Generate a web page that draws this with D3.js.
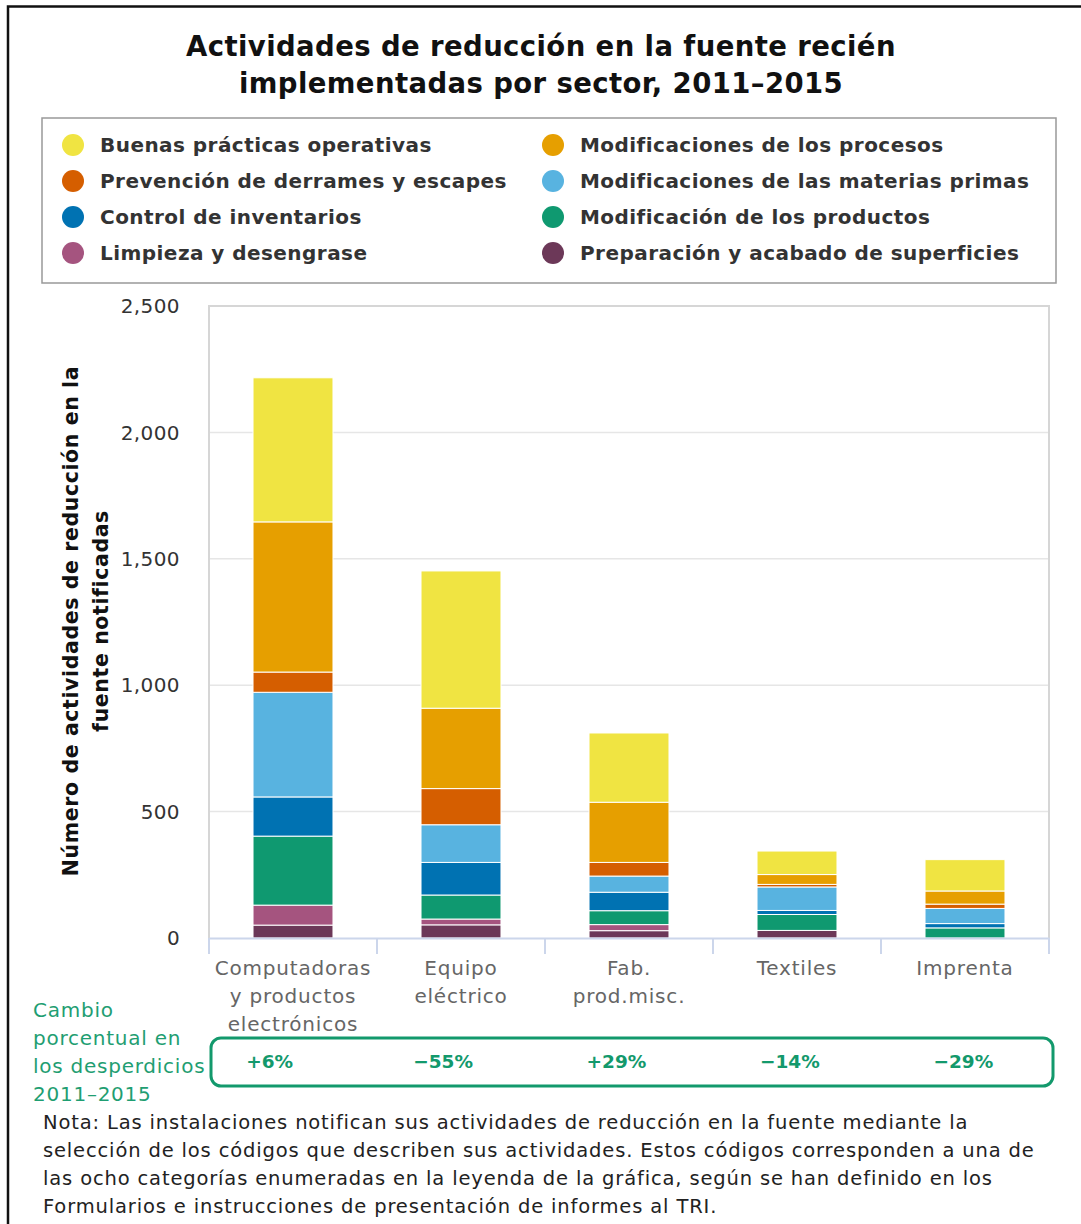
<!DOCTYPE html>
<html lang="es">
  <head>
    <meta charset="utf-8" />
    <title>Actividades de reducción en la fuente</title>
    <script src="https://cdnjs.cloudflare.com/ajax/libs/d3/7.8.5/d3.min.js"></script>
    <style>
      body { margin: 0; background: #fff; }
      svg { display: block; font-family: "DejaVu Sans", Verdana, sans-serif; }
    </style>
  </head>
  <body>
    <script>
      /*************************** Data ***************************/

      var sectors = [
        ["Computadoras", "y productos", "electrónicos"],
        ["Equipo", "eléctrico"],
        ["Fab.", "prod.misc."],
        ["Textiles"],
        ["Imprenta"]
      ];
      var sectorKeys = ["comp", "elec", "fab", "text", "impr"];

      // stacked from the bottom up
      var seriesNames = [
        "Preparación y acabado de superficies",
        "Limpieza y desengrase",
        "Modificación de los productos",
        "Control de inventarios",
        "Modificaciones de las materias primas",
        "Prevención de derrames y escapes",
        "Modificaciones de los procesos",
        "Buenas prácticas operativas"
      ];
      var seriesColors = ["#6c3858", "#a5547f", "#0f9970", "#0072b2", "#58b3e0", "#d55e00", "#e69f00", "#f0e442"];

      var prep       = [51, 52, 29, 30, 0];
      var limpieza   = [79, 23, 24, 0, 0];
      var productos  = [273, 95, 55, 63, 40];
      var inventario = [155, 129, 73, 16, 17];
      var materias   = [414, 149, 64, 93, 60];
      var derrames   = [80, 143, 54, 10, 17];
      var procesos   = [594, 318, 238, 39, 52];
      var buenas     = [570, 543, 274, 93, 124];

      var cambio = ["+6%", "\u221255%", "+29%", "\u221214%", "\u221229%"];

      // legend is read row by row, two columns
      var legendOrder = [7, 6, 5, 4, 3, 2, 1, 0];

      var yTicks = [0, 500, 1000, 1500, 2000, 2500];

      var noteLines = [
        "Nota: Las instalaciones notifican sus actividades de reducción en la fuente mediante la",
        "selección de los códigos que describen sus actividades. Estos códigos corresponden a una de",
        "las ocho categorías enumeradas en la leyenda de la gráfica, según se han definido en los",
        "Formularios e instrucciones de presentación de informes al TRI."
      ];

      /*************************** Canvas ***************************/

      var W = 1081, H = 1224;
      var svg = d3.select("body").append("svg").attr("width", W).attr("height", H);

      // frame
      svg.append("path").attr("d", "M8,1224 V6.5 H1081")
        .attr("fill", "none").attr("stroke", "#111").attr("stroke-width", 2.5);

      // title
      var title = svg.append("text").attr("x", 541).attr("text-anchor", "middle")
        .attr("font-size", 27.5).attr("letter-spacing", 0.4).attr("font-weight", "bold").attr("fill", "#111");
      title.append("tspan").attr("x", 541).attr("y", 56).text("Actividades de reducción en la fuente recién");
      title.append("tspan").attr("x", 541).attr("y", 93).text("implementadas por sector, 2011\u20132015");

      /*************************** Legend ***************************/

      svg.append("rect").attr("x", 42).attr("y", 118).attr("width", 1014).attr("height", 165)
        .attr("fill", "#fff").attr("stroke", "#999").attr("stroke-width", 1.5);

      var legend = svg.append("g").selectAll("g").data(legendOrder).join("g")
        .attr("transform", function (d, i) {
          return "translate(" + (i % 2 === 0 ? 73 : 553) + "," + (145 + Math.floor(i / 2) * 36) + ")";
        });
      legend.append("circle").attr("r", 11).attr("fill", function (d) { return seriesColors[d]; });
      legend.append("text").attr("x", 27).attr("dy", "0.36em")
        .attr("font-size", 20).attr("letter-spacing", 0.45).attr("font-weight", "bold").attr("fill", "#333")
        .text(function (d) { return seriesNames[d]; });

      /*************************** Scales ***************************/

      var x = d3.scaleBand().domain(sectorKeys).range([209, 1049]).paddingInner(0.524).paddingOuter(0.262);
      var y = d3.scaleLinear().domain([0, 2500]).range([938, 306]);
      var xc = d3.scaleBand().domain(sectorKeys).range([183, 1050]);

      var table = sectorKeys.map(function (k, i) {
        return {
          key: k, s0: prep[i], s1: limpieza[i], s2: productos[i], s3: inventario[i],
          s4: materias[i], s5: derrames[i], s6: procesos[i], s7: buenas[i]
        };
      });
      var stack = d3.stack().keys(["s0", "s1", "s2", "s3", "s4", "s5", "s6", "s7"]);
      var layers = stack(table);

      /*************************** Plot area ***************************/

      svg.append("g").selectAll("line").data(yTicks.slice(1)).join("line")
        .attr("x1", 209).attr("x2", 1049)
        .attr("y1", function (d) { return y(d); }).attr("y2", function (d) { return y(d); })
        .attr("stroke", "#e6e6e6").attr("stroke-width", 1.5);

      svg.append("path").attr("d", "M209,938 V306 H1049 V938")
        .attr("fill", "none").attr("stroke", "#d6d6d6").attr("stroke-width", 2);

      svg.append("g").selectAll("text").data(yTicks).join("text")
        .attr("x", 180).attr("y", function (d) { return y(d); }).attr("dy", "0.36em")
        .attr("text-anchor", "end").attr("font-size", 20).attr("letter-spacing", 0.4).attr("fill", "#333")
        .text(function (d) { return d3.format(",")(d); });

      // y title
      var yt = svg.append("text").attr("transform", "translate(0,621) rotate(-90)")
        .attr("text-anchor", "middle").attr("font-size", 20.5).attr("letter-spacing", 0.6)
        .attr("font-weight", "bold").attr("fill", "#111");
      yt.append("tspan").attr("x", 0).attr("y", 78).text("Número de actividades de reducción en la");
      yt.append("tspan").attr("x", 0).attr("y", 108).text("fuente notificadas");

      // bars
      svg.append("g").selectAll("g").data(layers).join("g")
        .attr("fill", function (d, i) { return seriesColors[i]; })
        .selectAll("rect").data(function (d) { return d; }).join("rect")
        .attr("x", function (d) { return x(d.data.key); })
        .attr("width", x.bandwidth())
        .attr("y", function (d) { return y(d[1]); })
        .attr("height", function (d) { return Math.max(0, y(d[0]) - y(d[1])); })
        .attr("stroke", "#fff").attr("stroke-width", 1);

      // x axis
      var xAxis = d3.axisBottom(x).tickSize(0).tickFormat("");
      var xg = svg.append("g").attr("transform", "translate(0,938)").call(xAxis);
      xg.select(".domain").attr("stroke", "#ccd6eb").attr("stroke-width", 2);
      var step = x.step();
      xg.selectAll(".sep").data(d3.range(sectorKeys.length + 1)).join("line")
        .attr("class", "sep")
        .attr("x1", function (d) { return 209 + d * step; }).attr("x2", function (d) { return 209 + d * step; })
        .attr("y1", 0).attr("y2", 16).attr("stroke", "#ccd6eb").attr("stroke-width", 2);

      var xl = svg.append("g").selectAll("text").data(sectorKeys).join("text")
        .attr("text-anchor", "middle").attr("font-size", 20).attr("letter-spacing", 0.8).attr("fill", "#666");
      xl.each(function (k, i) {
        var t = d3.select(this);
        sectors[i].forEach(function (line, j) {
          t.append("tspan").attr("x", x(k) + x.bandwidth() / 2).attr("y", 975 + j * 28).text(line);
        });
      });

      /*************************** Change row ***************************/

      var green = "#13996c";
      var cl = svg.append("text").attr("font-size", 20).attr("letter-spacing", 0.75).attr("fill", "#1f9e72");
      ["Cambio", "porcentual en", "los desperdicios", "2011\u20132015"].forEach(function (line, j) {
        cl.append("tspan").attr("x", 33).attr("y", 1017 + j * 28).text(line);
      });

      svg.append("rect").attr("x", 211).attr("y", 1038).attr("width", 842).attr("height", 48).attr("rx", 10)
        .attr("fill", "none").attr("stroke", green).attr("stroke-width", 3);

      svg.append("g").selectAll("text").data(cambio).join("text")
        .attr("x", function (d, i) { return xc(sectorKeys[i]) + xc.bandwidth() / 2; })
        .attr("y", 1061).attr("dy", "0.36em").attr("text-anchor", "middle")
        .attr("font-size", 18.5).attr("font-weight", "bold").attr("fill", green)
        .text(function (d) { return d; });

      /*************************** Note ***************************/

      svg.append("g").selectAll("text").data(noteLines).join("text")
        .attr("x", 43).attr("y", function (d, i) { return 1129 + i * 28; })
        .attr("font-size", 19.5).attr("letter-spacing", 0.85).attr("fill", "#222")
        .text(function (d) { return d; });
    </script>
  </body>
</html>
